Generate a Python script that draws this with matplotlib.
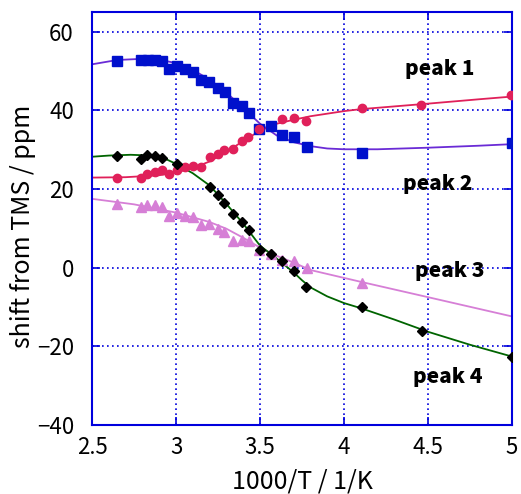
import numpy as np
import matplotlib.pyplot as plt

plt.rcParams['font.family'] = ['Noto Sans CJK JP', 'DejaVu Sans']

# measured points (1000/T, shift / ppm)
x1 = [2.65, 2.79, 2.835, 2.873, 2.915, 2.96, 3.008, 3.054, 3.10, 3.15, 3.198, 3.25,
      3.29, 3.34, 3.395, 3.435, 3.494, 3.564, 3.63, 3.70, 3.778, 4.105, 4.998]
y1 = [52.5, 52.7, 52.9, 52.9, 52.5, 50.6, 51.3, 50.4, 49.7, 47.7, 47.3, 45.6,
      44.7, 41.8, 41.1, 39.3, 35.3, 36.0, 33.8, 33.1, 30.8, 29.1, 31.6]

x2 = [2.65, 2.79, 2.83, 2.873, 2.915, 2.96, 3.004, 3.054, 3.10, 3.147, 3.202, 3.25,
      3.288, 3.337, 3.395, 3.43, 3.494, 3.63, 3.70, 3.772, 4.105, 4.458, 4.994]
y2 = [22.9, 22.9, 23.9, 24.4, 24.8, 23.9, 24.8, 25.6, 25.9, 25.7, 28.2, 29.0,
      29.9, 30.1, 32.1, 33.2, 35.2, 37.7, 38.1, 37.3, 40.5, 41.4, 43.9]

x3 = [2.647, 2.79, 2.83, 2.873, 2.915, 2.96, 3.004, 3.054, 3.10, 3.15, 3.198, 3.25,
      3.288, 3.337, 3.395, 3.435, 3.494, 3.564, 3.63, 3.70, 3.778, 4.105]
y3 = [16.3, 15.3, 16.0, 16.0, 15.3, 13.2, 14.0, 13.2, 12.8, 10.9, 11.2, 9.8,
      9.1, 6.7, 7.0, 6.7, 4.5, 3.5, 1.9, 1.8, -0.1, -4.0]

x4 = [2.647, 2.79, 2.83, 2.873, 2.915, 3.008, 3.202, 3.25, 3.288, 3.337, 3.395, 3.435,
      3.50, 3.564, 3.629, 3.704, 3.774, 4.105, 4.462, 4.998]
y4 = [28.3, 27.6, 28.7, 28.3, 27.8, 26.3, 20.6, 18.5, 16.4, 13.6, 11.7, 9.6,
      4.5, 3.5, 1.8, -0.9, -4.8, -10.1, -16.2, -22.6]

# fitted curves
cx1 = [2.5, 2.65, 2.8, 2.9, 3.0, 3.1, 3.2, 3.3, 3.4, 3.5, 3.6, 3.7, 3.8, 3.9, 4.0,
       4.2, 4.5, 4.8, 5.0]
cy1 = [51.7, 52.8, 53.1, 52.9, 52.0, 50.3, 47.8, 44.5, 40.6, 36.6, 33.6, 31.9, 30.9,
       30.3, 30.1, 30.1, 30.5, 31.0, 31.4]

cx2 = [2.5, 2.7, 2.9, 3.0, 3.1, 3.2, 3.3, 3.4, 3.5, 3.6, 3.7, 3.8, 4.0, 4.1, 4.3,
       4.5, 4.8, 5.0]
cy2 = [22.9, 23.0, 23.5, 24.2, 25.3, 27.0, 29.4, 32.2, 34.8, 36.6, 37.6, 38.5, 39.8,
       40.3, 41.0, 41.7, 42.8, 43.5]

cx3 = [2.5, 2.75, 3.0, 3.2, 3.3, 3.4, 3.5, 3.6, 3.7, 3.8, 4.0, 4.1, 4.5, 5.0]
cy3 = [17.5, 16.1, 14.0, 11.6, 9.9, 7.6, 5.1, 3.0, 1.3, -0.6, -2.6, -3.6, -7.5, -12.4]

cx4 = [2.5, 2.6, 2.73, 2.85, 2.95, 3.0, 3.1, 3.2, 3.3, 3.4, 3.5, 3.6, 3.7, 3.75, 3.8,
       3.9, 4.0, 4.1, 4.3, 4.5, 4.75, 5.0]
cy4 = [28.2, 28.5, 28.7, 28.5, 27.4, 26.4, 24.0, 20.9, 16.2, 11.2, 5.6, 2.3, -1.2,
       -3.2, -5.0, -7.3, -9.0, -10.3, -13.2, -16.3, -19.6, -22.6]

labels = ['peak 1', 'peak 2', 'peak 3', 'peak 4']
label_x = [4.57, 4.56, 4.63, 4.62]
label_y = [50.5, 21.3, -0.8, -27.9]

fig = plt.figure(figsize=(5.21, 4.94), dpi=100)
ax = fig.add_axes([0.1766, 0.1397, 0.8061, 0.836])

ax.plot(cx1, cy1, color='#6a2bd6', lw=1.3, zorder=2)
ax.plot(cx2, cy2, color='#e0205a', lw=1.3, zorder=2)
ax.plot(cx3, cy3, color='#d67fd6', lw=1.3, zorder=2)
ax.plot(cx4, cy4, color='#006400', lw=1.3, zorder=2)

ax.plot(x1, y1, 's', color='#0010cc', ms=6.5, ls='none', zorder=3)
ax.plot(x2, y2, 'o', color='#e0205a', ms=6, ls='none', zorder=3)
ax.plot(x3, y3, '^', color='#d67fd6', ms=7, ls='none', zorder=3)
ax.plot(x4, y4, 'D', color='black', ms=5.5, ls='none', zorder=4)

for t, lx, ly in zip(labels, label_x, label_y):
    ax.text(lx, ly, t, fontsize=15, fontweight='black', ha='center', va='center')

ax.set_xlim(2.5, 5.0)
ax.set_ylim(-40, 65)
ax.set_xticks(np.arange(2.5, 5.01, 0.5))
ax.set_xticklabels(['2.5', '3', '3.5', '4', '4.5', '5'])
ax.set_yticks([-40, -20, 0, 20, 40, 60])
ax.set_yticklabels(['\u221240', '\u221220', '0', '20', '40', '60'])
ax.grid(True, color='#0000dd', ls=(0, (1, 2)), lw=1.2)
for s in ax.spines.values():
    s.set_color('#0000dd')
    s.set_linewidth(1.5)
ax.tick_params(direction='in', top=True, right=True, length=6, width=1.2,
               color='#0000dd', labelsize=16)
ax.tick_params(axis='x', pad=8)
ax.tick_params(axis='y', pad=13)

ax.set_xlabel('1000/T / 1/K', fontsize=18)
ax.set_ylabel('shift from TMS / ppm', fontsize=18)
ax.xaxis.set_label_coords(0.5, -0.105)
ax.yaxis.set_label_coords(-0.133, 0.48)

fig.savefig('out.png', dpi=100)
